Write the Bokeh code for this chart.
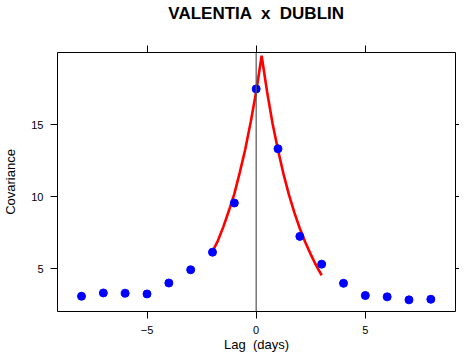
from bokeh.plotting import figure
from bokeh.models import Range1d, LinearAxis, FixedTicker, Span
from bokeh.embed import file_html
from bokeh.resources import INLINE

# observed cross-covariance by lag
lag = [-8, -7, -6, -5, -4, -3, -2, -1, 0, 1, 2, 3, 4, 5, 6, 7, 8]
cov = [3.09, 3.32, 3.30, 3.25, 4.01, 4.93, 6.15, 9.57, 17.5, 13.34, 7.25, 5.32, 3.99, 3.14, 3.05, 2.84, 2.88]

# fitted curve
fit_lag = [-2.0, -1.75, -1.5, -1.25, -1.0, -0.75, -0.5, -0.25, 0.0, 0.25,
           0.5, 0.75, 1.0, 1.25, 1.5, 1.75, 2.0, 2.25, 2.5, 2.75, 3.0]
fit_cov = [6.2, 6.96, 7.93, 9.03, 10.2, 11.7, 13.3, 15.2, 17.3, 19.8,
           17.3, 15.1, 13.25, 11.6, 10.15, 8.9, 7.8, 6.84, 6.0, 5.22, 4.55]

x_ticks = [-5, 0, 5]
y_ticks = [5, 10, 15]

FONT = "Liberation Sans"
NB = "\u00a0"
TITLE = "VALENTIA " + NB + "x " + NB + "DUBLIN"

p = figure(width=459, height=354, output_backend="svg", toolbar_location=None,
           x_range=Range1d(-9.10, 9.13), y_range=Range1d(2.03, 20.03),
           x_axis_location=None, y_axis_location=None,
           min_border_left=57, min_border_right=4, min_border_top=52, min_border_bottom=41)

p.xgrid.visible = False
p.ygrid.visible = False
p.outline_line_color = "black"
p.outline_line_width = 1
p.background_fill_color = "white"
p.border_fill_color = "white"

def style(ax, labels=True, ticks=None):
    ax.axis_line_color = None
    ax.major_tick_line_color = "black"
    ax.major_tick_in = 0
    ax.major_tick_out = 7
    ax.minor_tick_line_color = None
    if labels:
        ax.major_label_text_font = FONT
        ax.major_label_text_font_size = "11px"
        ax.major_label_text_color = "black"
        ax.axis_label_text_font = FONT
        ax.axis_label_text_font_size = "13px"
        ax.axis_label_text_font_style = "normal"
        ax.axis_label_text_color = "black"
    else:
        ax.major_label_overrides = {t: "" for t in ticks}
        ax.major_label_text_font_size = "0px"
        ax.major_label_standoff = 0
        ax.axis_label_standoff = 0

xb = LinearAxis(ticker=FixedTicker(ticks=x_ticks), axis_label="Lag " + NB + "(days)")
style(xb)
xb.major_label_standoff = 7
xb.axis_label_standoff = 0
xb.major_label_overrides = {-5: "\u22125"}
p.add_layout(xb, "below")

# top axis: ticks only, its axis label carries the chart title
xt = LinearAxis(ticker=FixedTicker(ticks=x_ticks), axis_label=TITLE)
style(xt, labels=False, ticks=x_ticks)
xt.axis_label_standoff = 23
xt.axis_label_text_font = FONT
xt.axis_label_text_font_size = "17px"
xt.axis_label_text_font_style = "bold"
xt.axis_label_text_color = "black"
p.add_layout(xt, "above")

yl = LinearAxis(ticker=FixedTicker(ticks=y_ticks), axis_label="Covariance")
style(yl)
yl.major_label_standoff = 7
yl.axis_label_standoff = 10
yl.major_label_orientation = "horizontal"
p.add_layout(yl, "left")

yr = LinearAxis(ticker=FixedTicker(ticks=y_ticks))
style(yr, labels=False, ticks=y_ticks)
yr.major_tick_out = 4
p.add_layout(yr, "right")

p.add_layout(Span(location=0, dimension="height", line_color="#555555", line_width=1.2))

p.line(fit_lag, fit_cov, line_color="#FF0000", line_width=2.6)
p.scatter(lag, cov, size=8, fill_color="#0000FF", line_color="#0000FF")

open("out.html", "w").write(file_html(p, INLINE))
